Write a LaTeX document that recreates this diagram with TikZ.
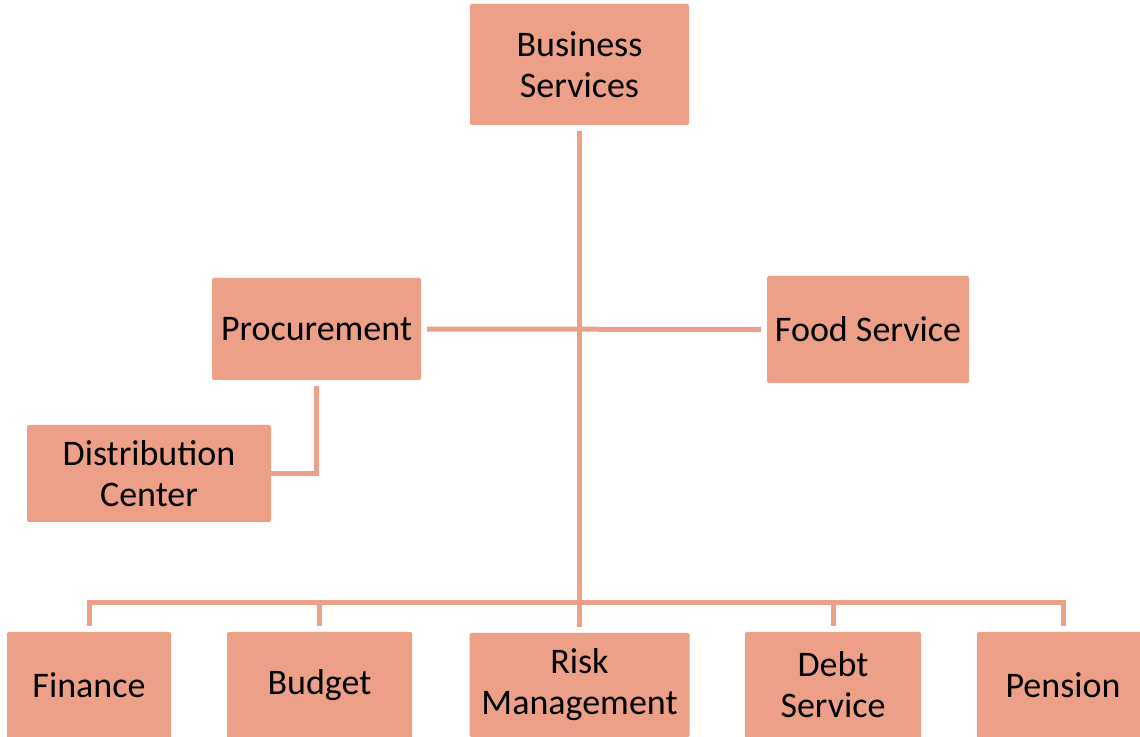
\documentclass[tikz,border=0pt]{standalone}
\usepackage{fontspec}
\setmainfont{Carlito}
\usepackage{tikz}
\usepackage{xcolor}
\usetikzlibrary{positioning}
\definecolor{salmon}{HTML}{ECA088}

\begin{document}
\begin{tikzpicture}[x=1pt,y=1pt,unit/.style={fill=salmon,rounded corners=1.5pt,inner sep=0pt,align=center,outer sep=6pt,font=\fontsize{36}{41}\selectfont},link/.style={draw=salmon,line width=5pt}]
  \useasboundingbox (0,0) rectangle (1140,736);
  \clip (0,0) rectangle (1140,736);
  \node[unit,minimum width=219,minimum height=121] (bs) at (579.5,671.5) {Business\\Services};
  \node[unit,minimum width=209,minimum height=102] (pro) at (316.5,407) {Procurement};
  \node[unit,minimum width=202,minimum height=107] (fs) at (868,406.5) {Food Service};
  \node[unit,minimum width=244,minimum height=97,outer sep=0pt] (dc) at (149,262.5) {Distribution\\Center};
  \node[unit,minimum width=164,minimum height=106] (fin) at (89,51) {Finance};
  \node[unit,minimum width=185,minimum height=106] (bud) at (319.5,51) {Budget};
  \node[unit,minimum width=220,minimum height=104] (rm) at (579.5,51) {Risk\\Management};
  \node[unit,minimum width=176,minimum height=106] (deb) at (833,51) {Debt\\Service};
  \node[unit,minimum width=172,minimum height=106] (pen) at (1063,51) {Pension};
  \coordinate (bus) at (0,133);
  \draw[link] (bs) -- (rm);
  \draw[link] (pro) -- (fs);
  \draw[link] (pro.south) |- (dc.east);
  \foreach \n in {fin,bud,deb,pen}
    \draw[link] (\n.north) |- (rm.north |- bus);
\end{tikzpicture}
\end{document}
